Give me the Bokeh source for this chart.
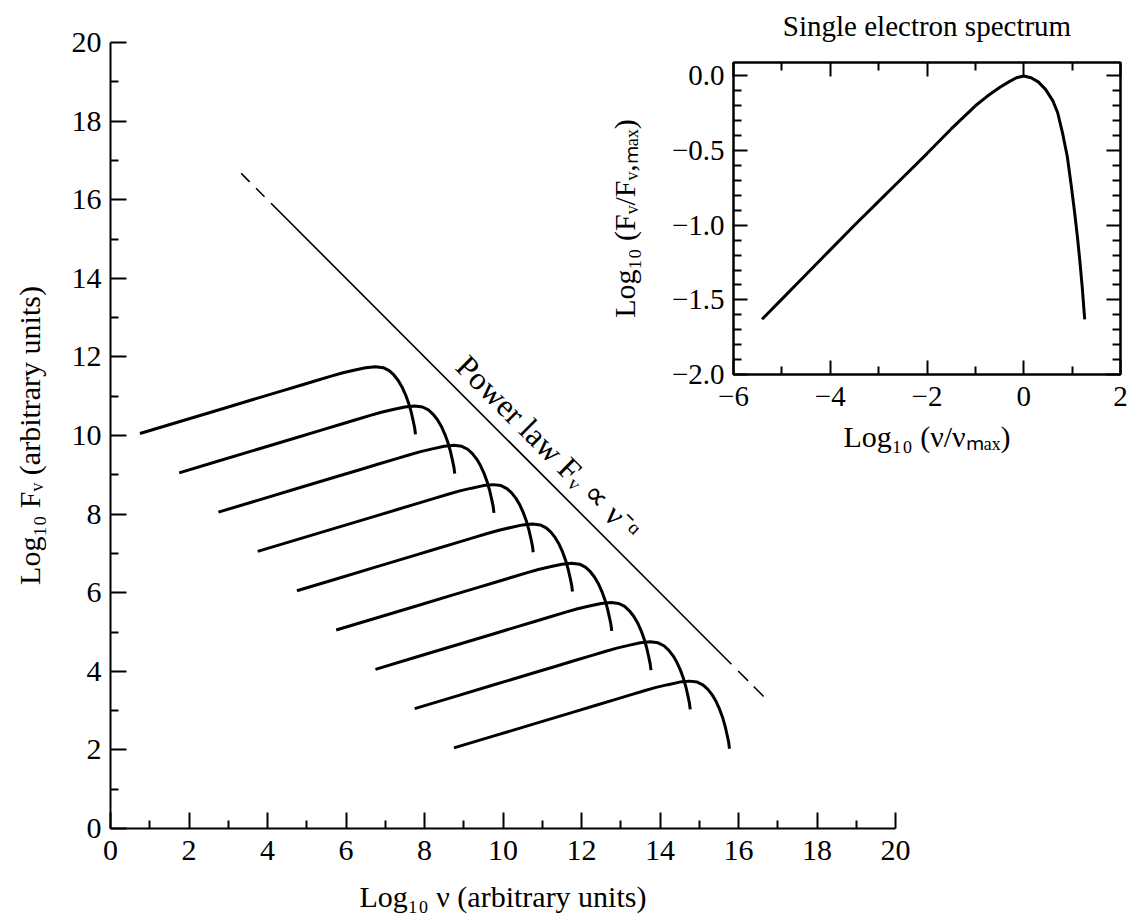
import math
from bokeh.plotting import figure
from bokeh.models import Range1d, FixedTicker, LinearAxis, Label, CustomJSTickFormatter
from bokeh.layouts import column
from bokeh.embed import file_html
from bokeh.resources import INLINE

FONT = "Liberation Serif"

# ---------------- main panel data ----------------
main_major_ticks = [0, 2, 4, 6, 8, 10, 12, 14, 16, 18, 20]
main_minor_ticks = [1, 3, 5, 7, 9, 11, 13, 15, 17, 19]

# start points of the nine electron spectra
curve_start_x = [0.75, 1.75, 2.75, 3.75, 4.75, 5.75, 6.75, 7.75, 8.75]
curve_start_y = [10.05, 9.05, 8.05, 7.05, 6.05, 5.05, 4.05, 3.05, 2.05]
# common shape of each spectrum, relative to its start point
shape_dx = [0.00, 1.00, 2.00, 3.00, 3.60, 4.10, 4.50, 4.85, 5.15, 5.45, 5.75, 6.00,
            6.20, 6.35, 6.47, 6.58, 6.68, 6.77, 6.85, 6.91, 6.96, 7.00, 7.02]
shape_dy = [0.00, 0.30, 0.60, 0.90, 1.08, 1.23, 1.35, 1.455, 1.54, 1.61, 1.675, 1.70,
            1.675, 1.60, 1.49, 1.35, 1.18, 0.98, 0.76, 0.55, 0.33, 0.14, -0.02]

# power-law envelope
powerlaw_solid_x = [4.09, 15.82]
powerlaw_solid_y = [15.91, 4.18]
powerlaw_dash_lo_x = [3.33, 3.96]
powerlaw_dash_lo_y = [16.67, 16.04]
powerlaw_dash_hi_x = [16.64, 15.97]
powerlaw_dash_hi_y = [3.36, 4.03]
powerlaw_label_x = 8.95
powerlaw_label_y = 11.90

# ---------------- inset data ----------------
inset_x = [-5.41, -5.0, -4.5, -4.0, -3.5, -3.0, -2.5, -2.0, -1.5, -1.0, -0.75, -0.5,
           -0.3, -0.15, 0.0, 0.15, 0.3, 0.45, 0.6, 0.7, 0.8, 0.9, 0.98, 1.05, 1.11,
           1.16, 1.21, 1.26]
inset_y = [-1.63, -1.495, -1.33, -1.165, -1.0, -0.84, -0.68, -0.52, -0.355, -0.2,
           -0.135, -0.078, -0.038, -0.012, 0.0, -0.012, -0.04, -0.09, -0.165, -0.245,
           -0.38, -0.54, -0.73, -0.91, -1.08, -1.24, -1.42, -1.63]
inset_x_major = [-6, -4, -2, 0, 2]
inset_x_minor = [-5, -3, -1, 1]
inset_y_major = [-2.0, -1.5, -1.0, -0.5, 0.0]
inset_y_minor = [-1.9, -1.8, -1.7, -1.6, -1.4, -1.3, -1.2, -1.1, -0.9, -0.8, -0.7,
                 -0.6, -0.4, -0.3, -0.2, -0.1]
inset_title = "Single electron spectrum"

# ---------------- layout geometry (pixels) ----------------
LEFT_PANEL = 135      # shared by both figures (column aligns them)
RIGHT_PANEL = 15
MAIN_SHIFT = -25      # main canvas shifted left so its frame starts at x=110
W, H = 935, 915       # main canvas
INSET_SHIFT = 598     # inset canvas left offset -> frame starts at x=733
INSET_TOP = 80        # inset top border; canvas raised by 18 -> frame top at y=62
IW, IH = 537, 478

# ---------------- main figure ----------------
p = figure(width=W, height=H, x_range=Range1d(0, 20), y_range=Range1d(0, 20),
           output_backend="svg", toolbar_location=None,
           min_border_left=LEFT_PANEL, min_border_right=RIGHT_PANEL,
           min_border_top=42, min_border_bottom=87)
p.outline_line_color = None
p.grid.visible = False
p.background_fill_color = "white"
p.border_fill_color = "white"
p.margin = (0, 0, 0, MAIN_SHIFT)

for ax in (p.xaxis[0], p.yaxis[0]):
    ax.ticker = FixedTicker(ticks=main_major_ticks, minor_ticks=main_minor_ticks)
    ax.axis_line_width = 2
    ax.axis_line_color = "black"
    ax.major_tick_in = 16
    ax.major_tick_out = 0
    ax.minor_tick_in = 8
    ax.minor_tick_out = 0
    ax.major_tick_line_width = 2
    ax.minor_tick_line_width = 2
    ax.major_tick_line_color = "black"
    ax.minor_tick_line_color = "black"
    ax.major_label_text_font = FONT
    ax.major_label_text_font_size = "30px"
    ax.major_label_text_color = "black"
    ax.axis_label_text_font = FONT
    ax.axis_label_text_font_size = "30px"
    ax.axis_label_text_font_style = "normal"
    ax.axis_label_text_color = "black"

p.xaxis.axis_label = "Log₁₀ ν (arbitrary units)"
p.yaxis.axis_label = "Log₁₀ Fᵥ (arbitrary units)"
p.xaxis.major_label_standoff = 12
p.xaxis.axis_label_standoff = 17
p.yaxis.major_label_standoff = 9
p.yaxis.axis_label_standoff = 23

curves_x = [[sx + dx for dx in shape_dx] for sx in curve_start_x]
curves_y = [[sy + dy for dy in shape_dy] for sy in curve_start_y]
p.multi_line(curves_x, curves_y, line_color="black", line_width=3)

p.line(powerlaw_solid_x, powerlaw_solid_y, line_color="black", line_width=1.6)
p.line(powerlaw_dash_lo_x, powerlaw_dash_lo_y, line_color="black", line_width=1.6,
       line_dash="12 9")
p.line(powerlaw_dash_hi_x, powerlaw_dash_hi_y, line_color="black", line_width=1.6,
       line_dash="14 8")

p.add_layout(Label(x=powerlaw_label_x, y=powerlaw_label_y, text="Power law Fᵥ ∝ ν⁻ᵅ",
                   angle=-math.pi / 4, text_font=FONT, text_font_size="32px",
                   text_color="black", text_baseline="alphabetic", text_align="left"))

# ---------------- inset figure ----------------
ins = figure(width=IW, height=IH, x_range=Range1d(-6, 2), y_range=Range1d(-2.0, 0.09),
             output_backend="svg", toolbar_location=None,
             min_border_left=LEFT_PANEL, min_border_right=RIGHT_PANEL,
             min_border_top=INSET_TOP, min_border_bottom=86,
             title=inset_title)
ins.title.align = "center"
ins.title.text_font = FONT
ins.title.text_font_size = "29px"
ins.title.text_font_style = "normal"
ins.title.text_color = "black"
ins.title.standoff = 42
ins.grid.visible = False
ins.outline_line_color = "black"
ins.outline_line_width = 2
ins.background_fill_alpha = 0
ins.border_fill_alpha = 0
ins.margin = (-H - 18, 0, 0, INSET_SHIFT)

ins.line(inset_x, inset_y, line_color="black", line_width=3)

bottom_ax = ins.below[0]
left_ax = ins.left[0]
top_ax = LinearAxis()
right_ax = LinearAxis()
ins.add_layout(top_ax, "above")
ins.add_layout(right_ax, "right")

for ax in (bottom_ax, top_ax):
    ax.ticker = FixedTicker(ticks=inset_x_major, minor_ticks=inset_x_minor)
for ax in (left_ax, right_ax):
    ax.ticker = FixedTicker(ticks=inset_y_major, minor_ticks=inset_y_minor)

for ax in (bottom_ax, left_ax, top_ax, right_ax):
    ax.axis_line_width = 2
    ax.axis_line_color = "black"
    ax.major_tick_in = 14
    ax.major_tick_out = 0
    ax.minor_tick_in = 8
    ax.minor_tick_out = 0
    ax.major_tick_line_width = 2
    ax.minor_tick_line_width = 2
    ax.major_tick_line_color = "black"
    ax.minor_tick_line_color = "black"
    ax.major_label_text_font = FONT
    ax.major_label_text_font_size = "29px"
    ax.major_label_text_color = "black"
    ax.axis_label_text_font = FONT
    ax.axis_label_text_font_size = "30px"
    ax.axis_label_text_font_style = "normal"
    ax.axis_label_text_color = "black"

for ax in (top_ax, right_ax):
    ax.major_label_text_font_size = "1px"
    ax.major_label_text_color = None
    ax.major_label_standoff = 0

bottom_ax.formatter = CustomJSTickFormatter(
    code="return tick < 0 ? '\\u2212' + Math.abs(tick).toFixed(0) : tick.toFixed(0);")
left_ax.formatter = CustomJSTickFormatter(
    code="return tick < 0 ? '\\u2212' + Math.abs(tick).toFixed(1) : tick.toFixed(1);")
bottom_ax.axis_label = "Log₁₀ (ν/νₘₐₓ)"
left_ax.axis_label = "Log₁₀ (Fᵥ/Fᵥ,ₘₐₓ)"
bottom_ax.major_label_standoff = 12
bottom_ax.axis_label_standoff = 11
left_ax.major_label_standoff = 9
left_ax.axis_label_standoff = 28

layout = column(p, ins, spacing=0)
open("out.html", "w").write(file_html(layout, INLINE))
